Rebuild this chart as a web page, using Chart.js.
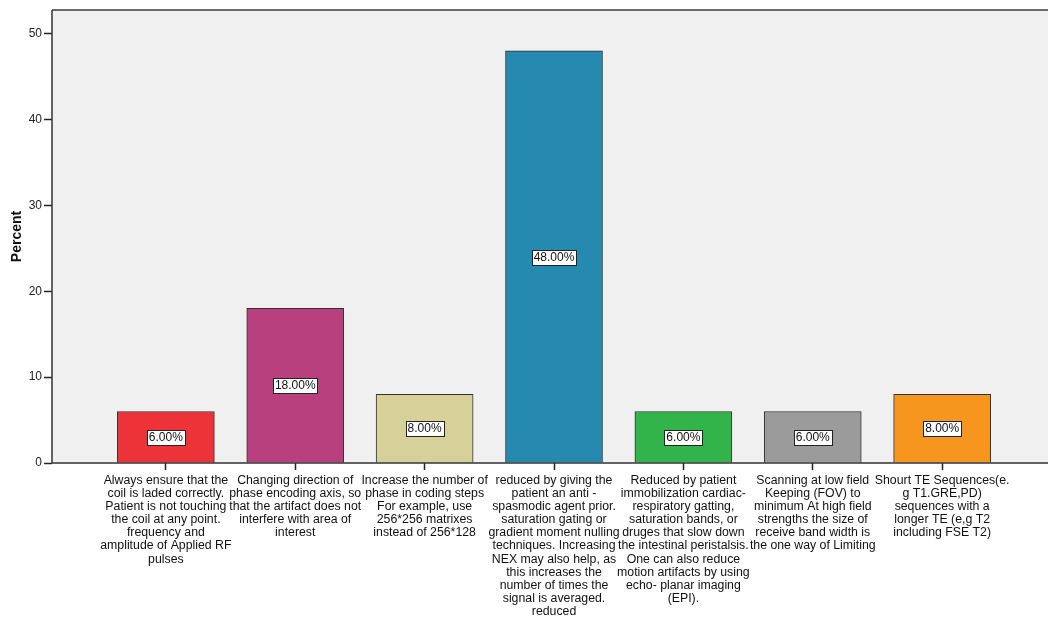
<!DOCTYPE html>
<html>
<head>
<meta charset="utf-8">
<script src="https://cdn.jsdelivr.net/npm/chart.js@4/dist/chart.umd.min.js"></script>
<style>
html,body{margin:0;padding:0;background:#fff;overflow:hidden;width:1048px;height:619px;}
#wrap{position:absolute;left:0;top:0;width:1060px;height:619px;}
</style>
</head>
<body>
<div id="wrap"><canvas id="c" width="1060" height="619"></canvas></div>
<script>
const categories = [
  ["Always ensure that the","coil is laded correctly.","Patient is not touching","the coil at any point.","frequency and","amplitude of Applied RF","pulses"],
  ["Changing direction of","phase encoding axis, so","that the artifact does not","interfere with area of","interest"],
  ["Increase the number of","phase in coding steps","For example, use","256*256 matrixes","instead of 256*128"],
  ["reduced by giving the","patient an anti -","spasmodic agent prior.","saturation gating or","gradient moment nulling","techniques. Increasing","NEX may also help, as","this increases the","number of times the","signal is averaged.","reduced"],
  ["Reduced by patient","immobilization cardiac-","respiratory gatting,","saturation bands, or","druges that slow down","the intestinal peristalsis.","One can also reduce","motion artifacts by using","echo- planar imaging","(EPI)."],
  ["Scanning at low field","Keeping (FOV) to","minimum At high field","strengths the size of","receive band width is","the one way of Limiting"],
  ["Shourt TE Sequences(e.","g T1.GRE,PD)","sequences with a","longer TE (e,g T2","including FSE T2)"]
];
const percentValues = [6, 18, 8, 48, 6, 6, 8];
const barColors = ["#ee3338", "#b8407e", "#d5d199", "#2589b0", "#33b44a", "#9b9b9b", "#f7961e"];
const yTicks = [0, 10, 20, 30, 40, 50];

const FONT = "'Liberation Sans', Arial, sans-serif";

const bgPlugin = {
  id: 'bg',
  beforeDraw(chart) {
    const a = chart.chartArea, ctx = chart.ctx;
    ctx.save();
    ctx.fillStyle = '#f0f0f0';
    ctx.fillRect(a.left, a.top, a.right - a.left, a.bottom - a.top);
    ctx.restore();
  },
  afterDraw(chart) {
    const a = chart.chartArea, ctx = chart.ctx;
    ctx.save();
    ctx.strokeStyle = '#6a6a6a';
    ctx.lineWidth = 2;
    ctx.beginPath();
    ctx.moveTo(a.left, a.top);
    ctx.lineTo(a.right, a.top);
    ctx.stroke();
    ctx.strokeStyle = '#333';
    ctx.lineWidth = 1.5;
    ctx.beginPath();
    ctx.moveTo(a.left, a.top);
    ctx.lineTo(a.left, a.bottom);
    ctx.lineTo(a.right, a.bottom);
    ctx.stroke();
    ctx.restore();
  }
};

const labelPlugin = {
  id: 'boxlabels',
  afterDatasetsDraw(chart) {
    const ctx = chart.ctx;
    const meta = chart.getDatasetMeta(0);
    ctx.save();
    ctx.font = "12px " + FONT;
    ctx.textAlign = 'center';
    ctx.textBaseline = 'middle';
    meta.data.forEach((bar, i) => {
      const txt = percentValues[i].toFixed(2) + '%';
      const cy = Math.round((bar.y + bar.base) / 2);
      const w = Math.ceil(ctx.measureText(txt).width) + 3;
      const h = 15;
      const x0 = Math.round(bar.x - w / 2) + 0.5, y0 = Math.round(cy - h / 2) + 0.5;
      ctx.fillStyle = '#fff';
      ctx.fillRect(x0, y0, w, h);
      ctx.strokeStyle = '#222';
      ctx.lineWidth = 1;
      ctx.strokeRect(x0, y0, w, h);
      ctx.fillStyle = '#111';
      ctx.fillText(txt, bar.x, cy + 1);
    });
    ctx.restore();
  }
};

new Chart(document.getElementById('c'), {
  type: 'bar',
  data: {
    datasets: [{
      data: percentValues.map((v, i) => ({ x: i, y: v })),
      backgroundColor: barColors,
      borderColor: '#333',
      borderWidth: 1,
      barThickness: 97
    }]
  },
  plugins: [bgPlugin, labelPlugin],
  options: {
    responsive: false,
    animation: false,
    layout: { padding: { top: 10, right: 4, left: 0, bottom: 0 } },
    plugins: { legend: { display: false }, tooltip: { enabled: false } },
    scales: {
      x: {
        type: 'linear',
        offset: false,
        min: -0.88,
        max: 6.88,
        afterBuildTicks(scale) { scale.ticks = categories.map((_, i) => ({ value: i })); },
        afterFit(scale) { scale.height = 156; },
        border: { display: false },
        grid: { offset: false, drawOnChartArea: false, drawTicks: true, tickLength: 7, tickColor: '#222', tickWidth: 1.5 },
        ticks: {
          autoSkip: false, maxRotation: 0, minRotation: 0, padding: 4,
          color: '#111',
          font: { family: FONT, size: 12.3, lineHeight: 1.065 },
          callback(v) { return categories[v] || ''; }
        }
      },
      y: {
        min: 0,
        max: 52.75,
        afterBuildTicks(scale) { scale.ticks = yTicks.map(v => ({ value: v })); },
        afterFit(scale) { scale.width = 52; },
        border: { display: false },
        grid: { drawOnChartArea: false, drawTicks: true, tickLength: 8, tickColor: '#222', tickWidth: 1.5 },
        ticks: { padding: 2, color: '#222', font: { family: FONT, size: 12 } },
        title: {
          display: true, text: 'Percent', color: '#111',
          font: { family: FONT, size: 14, weight: 'bold' },
          padding: { top: 9, bottom: 0 }
        }
      }
    }
  }
});
</script>
</body>
</html>
